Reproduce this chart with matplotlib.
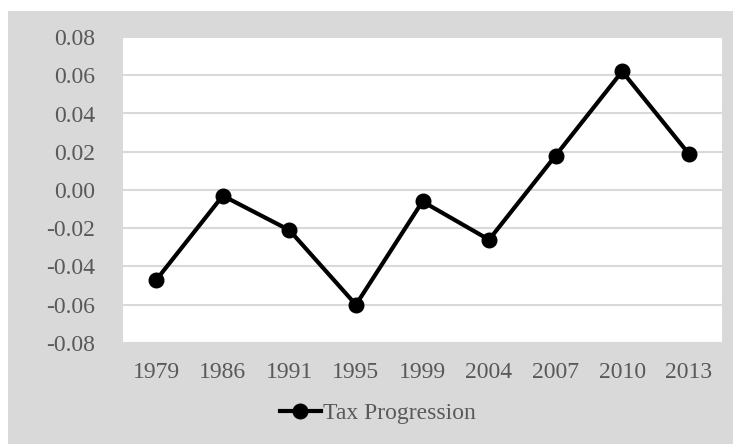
import numpy as np
import matplotlib.pyplot as plt
from matplotlib.patches import Rectangle

# Data
years = ["1979", "1986", "1991", "1995", "1999", "2004", "2007", "2010", "2013"]
tax_progression = [-0.047, -0.003, -0.021, -0.060, -0.006, -0.026, 0.018, 0.062, 0.019]
y_ticks = [-0.08, -0.06, -0.04, -0.02, 0.00, 0.02, 0.04, 0.06, 0.08]

plt.rcParams['font.family'] = ['Liberation Serif', 'DejaVu Serif']
text_color = '#595959'
grid_color = '#d9d9d9'

fig = plt.figure(figsize=(7.33, 4.44), dpi=100)
fig.patch.set_facecolor('white')

# Gray chart area (behind the plot axes)
fig.patches.append(Rectangle((8 / 733, 0), 1 - 8 / 733, 1 - 11 / 444,
                             transform=fig.transFigure, facecolor='#d9d9d9',
                             edgecolor='none', zorder=-5))

ax = fig.add_axes([123 / 733, 1 - 343 / 444, (722 - 123) / 733, (343 - 37) / 444])
ax.set_zorder(1)
ax.set_facecolor('white')

x = np.arange(len(years))
ax.plot(x, tax_progression, color='black', linewidth=3, marker='o',
        markersize=10.5, label='Tax Progression', zorder=3)

ax.set_xlim(-0.5, len(years) - 0.5)
ax.set_ylim(-0.08, 0.08)
ax.set_xticks(x)
ax.set_xticklabels(years)
ax.set_yticks(y_ticks)
ax.set_yticklabels([f"{v:.2f}" for v in y_ticks])

ax.grid(axis='y', color=grid_color, linewidth=1.5)
ax.set_axisbelow(True)
for spine in ax.spines.values():
    spine.set_visible(False)

ax.tick_params(axis='both', length=0, labelsize=17, colors=text_color)
ax.tick_params(axis='y', pad=20)
ax.tick_params(axis='x', pad=14)

fig.legend(loc='center', bbox_to_anchor=(378 / 733, 1 - 413 / 444), frameon=False,
           fontsize=17, labelcolor=text_color, handlelength=1.7, handletextpad=0.1,
           markerscale=1.0)

plt.savefig('out.png', dpi=100)
